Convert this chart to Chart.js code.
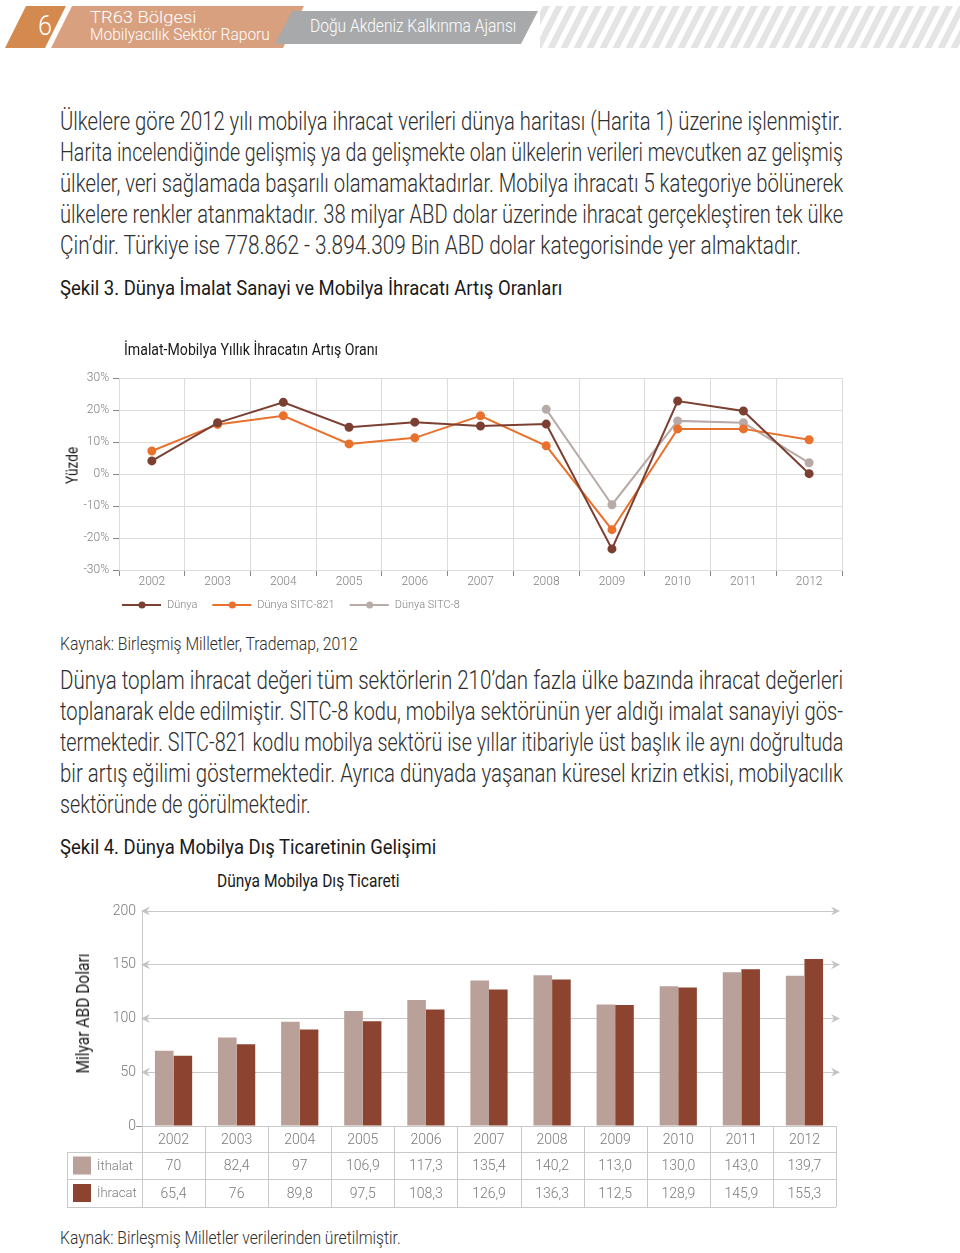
<!DOCTYPE html>
<html>
<head>
<meta charset="utf-8">
<script src="https://cdn.jsdelivr.net/npm/chart.js@4.4.1/dist/chart.umd.min.js"></script>
<style>
  body { margin: 0; width: 960px; height: 1253px; position: relative; overflow: hidden; background: #fff;
         font-family: Roboto, 'DejaVu Sans Condensed', sans-serif; font-weight: 300; color: #2e2e2e; }
  .t { position: absolute; white-space: nowrap; line-height: 1; transform-origin: 0 50%; }
  .head { color: #1a1a1a; font-weight: 400; }
  .white { color: #fff; font-weight: 300; }
  canvas { position: absolute; }
</style>
</head>
<body>
<svg width="960" height="54" style="position:absolute;left:0;top:0">
  <defs>
    <pattern id="stripes" width="13" height="60" patternUnits="userSpaceOnUse" patternTransform="skewX(-27)">
      <rect x="0" y="0" width="7" height="60" fill="#e4e4e4"></rect>
    </pattern>
  </defs>
  <polygon points="26,6 66,6 45,48 5,48" fill="#d4894f"></polygon>
  <polygon points="72,6 304,6 283,48 51,48" fill="#d9a07f"></polygon>
  <polygon points="292,11 538,11 521,44 275,44" fill="#a8a9ab"></polygon>
  <rect x="540" y="6" width="420" height="42" fill="url(#stripes)"></rect>
</svg>

<canvas id="lineChart" width="790" height="295" style="left:60px;top:330px"></canvas>
<canvas id="barChart" width="790" height="320" style="left:60px;top:895px"></canvas>

<script>
const FONT = "Roboto, 'DejaVu Sans Condensed', sans-serif";

// Şekil 3 - yıllık artış oranları (%)
const years = ['2002', '2003', '2004', '2005', '2006', '2007', '2008', '2009', '2010', '2011', '2012'];
const dunya = [4.1, 16.0, 22.4, 14.6, 16.2, 15.0, 15.6, -23.4, 22.8, 19.7, 0.1];
const dunyaSitc821 = [7.2, 15.5, 18.2, 9.4, 11.3, 18.2, 8.8, -17.4, 14.1, 14.1, 10.7];
const dunyaSitc8 = [null, null, null, null, null, null, 20.2, -9.6, 16.6, 16.0, 3.5];

// Şekil 4 - dış ticaret (milyar ABD doları), tablodaki yazılışıyla
const ithalatText = ['70', '82,4', '97', '106,9', '117,3', '135,4', '140,2', '113,0', '130,0', '143,0', '139,7'];
const ihracatText = ['65,4', '76', '89,8', '97,5', '108,3', '126,9', '136,3', '112,5', '128,9', '145,9', '155,3'];
const ithalat = ithalatText.map(s => parseFloat(s.replace(',', '.')));
const ihracat = ihracatText.map(s => parseFloat(s.replace(',', '.')));

// text blocks: [text, left, centerY, width, fontSize, class]
const texts = [
  ['6', 38, 27, 14, 27, 'white'],
  ['TR63 Bölgesi', 90, 18, 106, 17, 'white'],
  ['Mobilyacılık Sektör Raporu', 90, 35, 180, 17, 'white'],
  ['Doğu Akdeniz Kalkınma Ajansı', 310, 27, 206, 18, 'white'],

  ['Ülkelere göre 2012 yılı mobilya ihracat verileri dünya haritası (Harita 1) üzerine işlenmiştir.', 60, 122, 783, 25, ''],
  ['Harita incelendiğinde gelişmiş ya da gelişmekte olan ülkelerin verileri mevcutken az gelişmiş', 60, 153, 783, 25, ''],
  ['ülkeler, veri sağlamada başarılı olamamaktadırlar. Mobilya ihracatı 5 kategoriye bölünerek', 60, 184, 783, 25, ''],
  ['ülkelere renkler atanmaktadır. 38 milyar ABD dolar üzerinde ihracat gerçekleştiren tek ülke', 60, 215, 783, 25, ''],
  ['Çin’dir. Türkiye ise 778.862 - 3.894.309 Bin ABD dolar kategorisinde yer almaktadır.', 60, 246, 741, 25, ''],
  ['Şekil 3. Dünya İmalat Sanayi ve Mobilya İhracatı Artış Oranları', 60, 289, 502, 20, 'head'],
  ['İmalat-Mobilya Yıllık İhracatın Artış Oranı', 124, 350, 254, 16, 'head'],
  ['Kaynak: Birleşmiş Milletler, Trademap, 2012', 60, 644, 298, 19, ''],

  ['Dünya toplam ihracat değeri tüm sektörlerin 210’dan fazla ülke bazında ihracat değerleri', 60, 681, 783, 25, ''],
  ['toplanarak elde edilmiştir. SITC-8 kodu, mobilya sektörünün yer aldığı imalat sanayiyi gös-', 60, 712, 783, 25, ''],
  ['termektedir. SITC-821 kodlu mobilya sektörü ise yıllar itibariyle üst başlık ile aynı doğrultuda', 60, 743, 783, 25, ''],
  ['bir artış eğilimi göstermektedir. Ayrıca dünyada yaşanan küresel krizin etkisi, mobilyacılık', 60, 774, 783, 25, ''],
  ['sektöründe de görülmektedir.', 60, 805, 251, 25, ''],
  ['Şekil 4. Dünya Mobilya Dış Ticaretinin Gelişimi', 60, 848, 376, 20, 'head'],
  ['Dünya Mobilya Dış Ticareti', 217, 882, 183, 18, 'head'],
  ['Kaynak: Birleşmiş Milletler verilerinden üretilmiştir.', 60, 1238, 341, 19, '']
];
// rotated axis titles: [text, centerX, centerY, length, fontSize]
const rotated = [
  ['Yüzde', 72, 465, 37, 17],
  ['Milyar ABD Doları', 82, 1013, 120, 19]
];

function placeTexts() {
  texts.forEach(([txt, x, y, w, size, cls]) => {
    const el = document.createElement('div');
    el.className = 't ' + cls;
    el.textContent = txt;
    el.style.fontSize = size + 'px';
    el.style.left = x + 'px';
    el.style.top = (y - size * 0.53) + 'px';
    document.body.appendChild(el);
    el.style.transform = 'scaleX(' + (w / el.offsetWidth) + ')';
  });
  rotated.forEach(([txt, cx, cy, len, size]) => {
    const el = document.createElement('div');
    el.className = 't head';
    el.textContent = txt;
    el.style.fontSize = size + 'px';
    document.body.appendChild(el);
    const W = el.offsetWidth, H = el.offsetHeight;
    el.style.left = (cx - W / 2) + 'px';
    el.style.top = (cy - H / 2 + size * 0.03) + 'px';
    el.style.transformOrigin = '50% 50%';
    el.style.transform = 'rotate(-90deg) scaleX(' + (len / W) + ')';
  });
}

Chart.defaults.font.family = FONT;
Chart.defaults.font.weight = 300;

const lineColors = ['#7b4032', '#e8722d', '#b8aaa7'];

// legend below the plot: line with a dot, then the label
const lineLegend = {
  id: 'lineLegend',
  afterDraw(chart) {
    const ctx = chart.ctx;
    let x = 62;
    const y = 275;
    ctx.save();
    ctx.font = '300 11px ' + FONT;
    ctx.textBaseline = 'middle';
    chart.data.datasets.forEach(ds => {
      ctx.strokeStyle = ds.borderColor;
      ctx.lineWidth = 2;
      ctx.beginPath();
      ctx.moveTo(x, y);
      ctx.lineTo(x + 39, y);
      ctx.stroke();
      ctx.fillStyle = ds.borderColor;
      ctx.beginPath();
      ctx.arc(x + 20, y, 3.5, 0, Math.PI * 2);
      ctx.fill();
      ctx.fillStyle = '#808080';
      ctx.fillText(ds.label, x + 45, y);
      x += 45 + ctx.measureText(ds.label).width + 15;
    });
    ctx.restore();
  }
};

new Chart(document.getElementById('lineChart'), {
  type: 'line',
  data: {
    labels: years,
    datasets: [
      { label: 'Dünya', data: dunya },
      { label: 'Dünya SITC-821', data: dunyaSitc821 },
      { label: 'Dünya SITC-8', data: dunyaSitc8 }
    ].map((d, i) => Object.assign(d, {
      borderColor: lineColors[i],
      backgroundColor: lineColors[i],
      pointBackgroundColor: lineColors[i],
      pointBorderColor: lineColors[i],
      pointRadius: 3.5,
      borderWidth: 2,
      tension: 0
    }))
  },
  options: {
    responsive: false,
    animation: false,
    layout: { padding: { top: 48, right: 8, left: 0, bottom: 0 } },
    plugins: { legend: { display: false }, tooltip: { enabled: false } },
    scales: {
      x: {
        offset: true,
        grid: { offset: true, color: '#dcdcdc', tickLength: 6, tickColor: '#888' },
        border: { color: '#dcdcdc' },
        ticks: { color: '#808080', font: { size: 12 }, padding: -1 },
        afterFit(s) { s.height = 55; }
      },
      y: {
        min: -30,
        max: 30,
        ticks: { stepSize: 10, callback: v => v + '%', color: '#808080', font: { size: 12 }, padding: 4 },
        grid: { color: '#dcdcdc', tickLength: 6, tickColor: '#888' },
        border: { color: '#dcdcdc' },
        afterFit(s) { s.width = 59; }
      }
    }
  },
  plugins: [lineLegend]
});

// arrow heads at both ends of the horizontal grid lines
const gridArrows = {
  id: 'gridArrows',
  afterDraw(chart) {
    const ctx = chart.ctx, y = chart.scales.y, a = chart.chartArea;
    ctx.save();
    ctx.fillStyle = '#c4c4c4';
    y.ticks.forEach(t => {
      if (t.value === 0) return;
      const py = y.getPixelForValue(t.value);
      ctx.beginPath();
      ctx.moveTo(a.left - 1, py);
      ctx.lineTo(a.left + 8, py - 4.5);
      ctx.lineTo(a.left + 5, py);
      ctx.lineTo(a.left + 8, py + 4.5);
      ctx.fill();
      ctx.beginPath();
      ctx.moveTo(a.right + 4, py);
      ctx.lineTo(a.right - 5, py - 4.5);
      ctx.lineTo(a.right - 2, py);
      ctx.lineTo(a.right - 5, py + 4.5);
      ctx.fill();
    });
    ctx.restore();
  }
};

// data table under the bars
const dataTable = {
  id: 'dataTable',
  afterDraw(chart) {
    const ctx = chart.ctx, xs = chart.scales.x, a = chart.chartArea;
    const n = chart.data.labels.length;
    const cw = (a.right - a.left) / n;
    const top = a.bottom, r1 = top + 26, r2 = top + 53, bot = top + 81;
    const tl = 7;
    ctx.save();
    ctx.strokeStyle = '#c9c9c9';
    ctx.lineWidth = 1;
    ctx.beginPath();
    for (let i = 0; i <= n; i++) {
      const px = Math.round(a.left + i * cw) + 0.5;
      ctx.moveTo(px, top);
      ctx.lineTo(px, bot);
    }
    ctx.moveTo(tl + 0.5, r1);
    ctx.lineTo(tl + 0.5, bot);
    [r1, r2, bot].forEach(ry => {
      ctx.moveTo(tl, ry + 0.5);
      ctx.lineTo(a.right, ry + 0.5);
    });
    ctx.stroke();

    ctx.font = '300 14px ' + FONT;
    ctx.textAlign = 'center';
    ctx.textBaseline = 'middle';
    ctx.fillStyle = '#7a7a7a';
    const rows = [chart.data.labels, ithalatText, ihracatText];
    const centers = [(top + r1) / 2, (r1 + r2) / 2, (r2 + bot) / 2];
    rows.forEach((row, ri) => {
      row.forEach((txt, i) => ctx.fillText(txt, xs.getPixelForValue(i), centers[ri] + 1));
    });

    ctx.textAlign = 'left';
    ctx.font = '300 13px ' + FONT;
    chart.data.datasets.forEach((ds, di) => {
      const cy = centers[di + 1];
      ctx.fillStyle = ds.backgroundColor;
      ctx.fillRect(tl + 6, cy - 9, 18, 18);
      ctx.fillStyle = '#7a7a7a';
      ctx.fillText(ds.label, tl + 30, cy + 1);
    });
    ctx.restore();
  }
};

new Chart(document.getElementById('barChart'), {
  type: 'bar',
  data: {
    labels: years,
    datasets: [
      { label: 'İthalat', data: ithalat, backgroundColor: '#b9a099' },
      { label: 'İhracat', data: ihracat, backgroundColor: '#8c4430' }
    ]
  },
  options: {
    responsive: false,
    animation: false,
    barPercentage: 1,
    categoryPercentage: 0.59,
    layout: { padding: { top: 16, right: 14, left: 0, bottom: 0 } },
    plugins: { legend: { display: false }, tooltip: { enabled: false } },
    scales: {
      x: {
        ticks: { display: false },
        grid: { display: false },
        border: { display: false },
        afterFit(s) { s.height = 89; }
      },
      y: {
        min: 0,
        max: 200,
        ticks: { stepSize: 50, color: '#7a7a7a', font: { size: 14 }, padding: 0 },
        grid: {
          color: '#c9c9c9',
          tickLength: 6,
          tickColor: c => (c.tick && c.tick.value === 0) ? '#999' : 'rgba(0,0,0,0)'
        },
        border: { color: '#c9c9c9' },
        afterFit(s) { s.width = 82; }
      }
    }
  },
  plugins: [gridArrows, dataTable]
});

if (document.fonts && document.fonts.ready) {
  document.fonts.ready.then(placeTexts);
} else {
  placeTexts();
}
</script>
</body>
</html>
